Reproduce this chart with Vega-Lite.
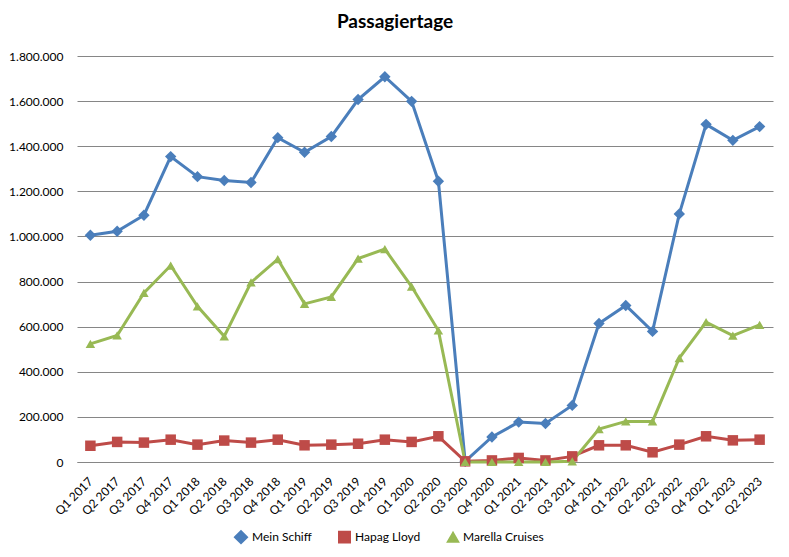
{
  "$schema": "https://vega.github.io/schema/vega-lite/v6.json",
  "autosize": "none",
  "width": 696,
  "height": 406,
  "padding": {"left": 77, "top": 56, "right": 16, "bottom": 95},
  "background": "white",
  "config": {
    "view": {"stroke": null},
    "font": "Lato",
    "locale": {"number": {"decimal": ",", "thousands": ".", "grouping": [3], "currency": ["", " €"]}}
  },
  "title": {
    "text": "Passagiertage",
    "font": "Lato",
    "fontSize": 19,
    "fontWeight": "bold",
    "color": "#000000",
    "anchor": "middle",
    "dx": -30,
    "offset": 18
  },
  "datasets": {
    "rows": [
      {"quarter": "Q1 2017", "series": "Mein Schiff", "value": 1005000},
      {"quarter": "Q2 2017", "series": "Mein Schiff", "value": 1023000},
      {"quarter": "Q3 2017", "series": "Mein Schiff", "value": 1094000},
      {"quarter": "Q4 2017", "series": "Mein Schiff", "value": 1354000},
      {"quarter": "Q1 2018", "series": "Mein Schiff", "value": 1265000},
      {"quarter": "Q2 2018", "series": "Mein Schiff", "value": 1248000},
      {"quarter": "Q3 2018", "series": "Mein Schiff", "value": 1239000},
      {"quarter": "Q4 2018", "series": "Mein Schiff", "value": 1438000},
      {"quarter": "Q1 2019", "series": "Mein Schiff", "value": 1373000},
      {"quarter": "Q2 2019", "series": "Mein Schiff", "value": 1443000},
      {"quarter": "Q3 2019", "series": "Mein Schiff", "value": 1607000},
      {"quarter": "Q4 2019", "series": "Mein Schiff", "value": 1708000},
      {"quarter": "Q1 2020", "series": "Mein Schiff", "value": 1599000},
      {"quarter": "Q2 2020", "series": "Mein Schiff", "value": 1245000},
      {"quarter": "Q3 2020", "series": "Mein Schiff", "value": 3000},
      {"quarter": "Q4 2020", "series": "Mein Schiff", "value": 111000},
      {"quarter": "Q1 2021", "series": "Mein Schiff", "value": 177000},
      {"quarter": "Q2 2021", "series": "Mein Schiff", "value": 171000},
      {"quarter": "Q3 2021", "series": "Mein Schiff", "value": 251000},
      {"quarter": "Q4 2021", "series": "Mein Schiff", "value": 614000},
      {"quarter": "Q1 2022", "series": "Mein Schiff", "value": 694000},
      {"quarter": "Q2 2022", "series": "Mein Schiff", "value": 579000},
      {"quarter": "Q3 2022", "series": "Mein Schiff", "value": 1100000},
      {"quarter": "Q4 2022", "series": "Mein Schiff", "value": 1497000},
      {"quarter": "Q1 2023", "series": "Mein Schiff", "value": 1426000},
      {"quarter": "Q2 2023", "series": "Mein Schiff", "value": 1487000},
      {"quarter": "Q1 2017", "series": "Hapag Lloyd", "value": 72000},
      {"quarter": "Q2 2017", "series": "Hapag Lloyd", "value": 89000},
      {"quarter": "Q3 2017", "series": "Hapag Lloyd", "value": 86000},
      {"quarter": "Q4 2017", "series": "Hapag Lloyd", "value": 99000},
      {"quarter": "Q1 2018", "series": "Hapag Lloyd", "value": 77000},
      {"quarter": "Q2 2018", "series": "Hapag Lloyd", "value": 95000},
      {"quarter": "Q3 2018", "series": "Hapag Lloyd", "value": 86000},
      {"quarter": "Q4 2018", "series": "Hapag Lloyd", "value": 99000},
      {"quarter": "Q1 2019", "series": "Hapag Lloyd", "value": 74000},
      {"quarter": "Q2 2019", "series": "Hapag Lloyd", "value": 77000},
      {"quarter": "Q3 2019", "series": "Hapag Lloyd", "value": 81000},
      {"quarter": "Q4 2019", "series": "Hapag Lloyd", "value": 99000},
      {"quarter": "Q1 2020", "series": "Hapag Lloyd", "value": 89000},
      {"quarter": "Q2 2020", "series": "Hapag Lloyd", "value": 114000},
      {"quarter": "Q3 2020", "series": "Hapag Lloyd", "value": 3000},
      {"quarter": "Q4 2020", "series": "Hapag Lloyd", "value": 7000},
      {"quarter": "Q1 2021", "series": "Hapag Lloyd", "value": 18000},
      {"quarter": "Q2 2021", "series": "Hapag Lloyd", "value": 7000},
      {"quarter": "Q3 2021", "series": "Hapag Lloyd", "value": 25000},
      {"quarter": "Q4 2021", "series": "Hapag Lloyd", "value": 74000},
      {"quarter": "Q1 2022", "series": "Hapag Lloyd", "value": 74000},
      {"quarter": "Q2 2022", "series": "Hapag Lloyd", "value": 43000},
      {"quarter": "Q3 2022", "series": "Hapag Lloyd", "value": 77000},
      {"quarter": "Q4 2022", "series": "Hapag Lloyd", "value": 114000},
      {"quarter": "Q1 2023", "series": "Hapag Lloyd", "value": 96000},
      {"quarter": "Q2 2023", "series": "Hapag Lloyd", "value": 99000},
      {"quarter": "Q1 2017", "series": "Marella Cruises", "value": 524000},
      {"quarter": "Q2 2017", "series": "Marella Cruises", "value": 561000},
      {"quarter": "Q3 2017", "series": "Marella Cruises", "value": 750000},
      {"quarter": "Q4 2017", "series": "Marella Cruises", "value": 871000},
      {"quarter": "Q1 2018", "series": "Marella Cruises", "value": 690000},
      {"quarter": "Q2 2018", "series": "Marella Cruises", "value": 557000},
      {"quarter": "Q3 2018", "series": "Marella Cruises", "value": 796000},
      {"quarter": "Q4 2018", "series": "Marella Cruises", "value": 899000},
      {"quarter": "Q1 2019", "series": "Marella Cruises", "value": 701000},
      {"quarter": "Q2 2019", "series": "Marella Cruises", "value": 732000},
      {"quarter": "Q3 2019", "series": "Marella Cruises", "value": 902000},
      {"quarter": "Q4 2019", "series": "Marella Cruises", "value": 944000},
      {"quarter": "Q1 2020", "series": "Marella Cruises", "value": 778000},
      {"quarter": "Q2 2020", "series": "Marella Cruises", "value": 583000},
      {"quarter": "Q3 2020", "series": "Marella Cruises", "value": 0},
      {"quarter": "Q4 2020", "series": "Marella Cruises", "value": 0},
      {"quarter": "Q1 2021", "series": "Marella Cruises", "value": 0},
      {"quarter": "Q2 2021", "series": "Marella Cruises", "value": 0},
      {"quarter": "Q3 2021", "series": "Marella Cruises", "value": 3000},
      {"quarter": "Q4 2021", "series": "Marella Cruises", "value": 146000},
      {"quarter": "Q1 2022", "series": "Marella Cruises", "value": 180000},
      {"quarter": "Q2 2022", "series": "Marella Cruises", "value": 180000},
      {"quarter": "Q3 2022", "series": "Marella Cruises", "value": 461000},
      {"quarter": "Q4 2022", "series": "Marella Cruises", "value": 620000},
      {"quarter": "Q1 2023", "series": "Marella Cruises", "value": 560000},
      {"quarter": "Q2 2023", "series": "Marella Cruises", "value": 608000}
    ]
  },
  "data": {"name": "rows"},
  "encoding": {
    "x": {
      "field": "quarter",
      "type": "ordinal",
      "sort": null,
      "title": null,
      "scale": {"type": "point", "padding": 0.5},
      "axis": {
        "labelAngle": -45,
        "labelAlign": "right",
        "labelBaseline": "middle",
        "labelFont": "Lato",
        "labelFontSize": 12,
        "labelColor": "#000000",
        "labelPadding": 17,
        "ticks": false,
        "domainColor": "#868686",
        "domainWidth": 1,
        "grid": false
      }
    },
    "y": {
      "field": "value",
      "type": "quantitative",
      "title": null,
      "scale": {"domain": [0, 1800000], "nice": false},
      "axis": {
        "values": [0, 200000, 400000, 600000, 800000, 1000000, 1200000, 1400000, 1600000, 1800000],
        "format": ",d",
        "labelFont": "Lato",
        "labelFontSize": 12,
        "labelColor": "#000000",
        "labelPadding": 14,
        "ticks": false,
        "domain": false,
        "gridColor": "#868686",
        "gridWidth": 1
      }
    },
    "color": {
      "field": "series",
      "type": "nominal",
      "scale": {"domain": ["Mein Schiff", "Hapag Lloyd", "Marella Cruises"], "range": ["#4A7EBB", "#BE4B48", "#98B954"]}
    }
  },
  "layer": [
    {
      "mark": {"type": "line", "strokeWidth": 3}
    },
    {
      "mark": {"type": "point", "filled": true, "opacity": 1},
      "encoding": {
        "color": {
          "field": "series",
          "type": "nominal",
          "scale": {"domain": ["Mein Schiff", "Hapag Lloyd", "Marella Cruises"], "range": ["#4A7EBB", "#BE4B48", "#98B954"]},
          "legend": {
            "orient": "none",
            "legendX": 157,
            "legendY": 474,
            "direction": "horizontal",
            "title": null,
            "symbolSize": 729,
            "symbolStrokeWidth": 2.5,
            "labelFont": "Lato",
            "labelFontSize": 12,
            "labelColor": "#000000",
            "labelOffset": 4,
            "columnPadding": 22,
            "encode": {
              "symbols": {
                "shape": {"signal": "datum.value === 'Mein Schiff' ? 'M-1,0H1M0,-0.33L0.33,0L0,0.33L-0.33,0Z' : datum.value === 'Hapag Lloyd' ? 'M-1,0H1M-0.26,-0.26H0.26V0.26H-0.26Z' : 'M-1,0H1M0,-0.3L0.32,0.26L-0.32,0.26Z'"},
                "size": {"value": 729},
                "fill": {"signal": "scale('color', datum.value)"},
                "stroke": {"signal": "scale('color', datum.value)"},
                "strokeWidth": {"value": 2.5},
                "opacity": {"value": 1}
              }
            }
          }
        },
        "shape": {
          "field": "series",
          "type": "nominal",
          "scale": {"domain": ["Mein Schiff", "Hapag Lloyd", "Marella Cruises"], "range": ["diamond", "square", "triangle-up"]},
          "legend": null
        },
        "size": {
          "field": "series",
          "type": "nominal",
          "scale": {"domain": ["Mein Schiff", "Hapag Lloyd", "Marella Cruises"], "range": [130, 90, 120]},
          "legend": null
        }
      }
    }
  ]
}
